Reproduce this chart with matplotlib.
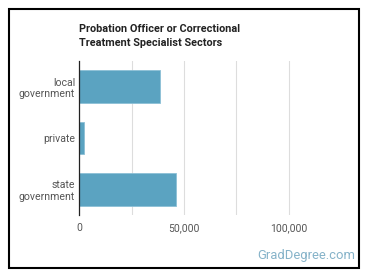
import matplotlib.pyplot as plt
import matplotlib.patches as patches
from matplotlib.ticker import FuncFormatter

# data
sectores = ["local\ngovernment", "private", "state\ngovernment"]
empleos = [38700, 2400, 46200]
ticks_mayores = [0, 50000, 100000]
ticks_menores = [25000, 75000]

plt.rcParams["font.family"] = ["Roboto", "DejaVu Sans"]

fig = plt.figure(figsize=(3.7, 2.78), dpi=100)
W, H = 370, 278

# ejes en pixeles
ax_left, ax_top, ax_right, ax_bottom = 79.3, 61, 340.8, 215
ax = fig.add_axes([ax_left / W, 1 - ax_bottom / H,
                   (ax_right - ax_left) / W, (ax_bottom - ax_top) / H])

y = range(len(sectores))
ax.barh(y, empleos, height=0.64, color="#5ba3c1", edgecolor="#8cc0d6",
        linewidth=0.6, zorder=3)
ax.set_ylim(2.5, -0.5)
ax.set_xlim(0, 125000)

ax.set_yticks(list(y))
ax.set_yticklabels(sectores, fontsize=7.6, color="#555555")
ax.set_xticks(ticks_mayores)
ax.set_xticks(ticks_menores, minor=True)
ax.xaxis.set_major_formatter(FuncFormatter(lambda v, p: f"{int(v):,}"))
ax.tick_params(axis="x", which="both", length=0, pad=6, labelsize=7.5,
               labelcolor="#555555")
ax.tick_params(axis="y", length=0, pad=3)
for lab in ax.get_yticklabels():
    lab.set_horizontalalignment("right")
    lab.set_multialignment("right")

ax.grid(axis="x", which="both", color="#dddddd", linewidth=0.8, zorder=0)
ax.grid(axis="y", visible=False)
for s in ["top", "right", "bottom"]:
    ax.spines[s].set_visible(False)
ax.spines["left"].set_color("#222222")
ax.spines["left"].set_linewidth(0.9)
ax.spines["left"].set_zorder(4)

# titulo
fig.text(79 / W, 1 - 23.5 / H,
         "Probation Officer or Correctional\nTreatment Specialist Sectors",
         fontsize=7.8, fontweight="bold", color="#222222", va="top", ha="left",
         linespacing=1.5)

# marca
fig.text(355 / W, 1 - 255.5 / H, "GradDegree.com", fontsize=9.4,
         color="#86b3c9", ha="right", va="center")

# borde
borde = patches.Rectangle((8.5 / W, 1 - 268 / H), 350.5 / W, 259.5 / H,
                          transform=fig.transFigure, fill=False,
                          edgecolor="black", linewidth=1.5)
fig.patches.append(borde)

fig.savefig("out.png", dpi=100)
